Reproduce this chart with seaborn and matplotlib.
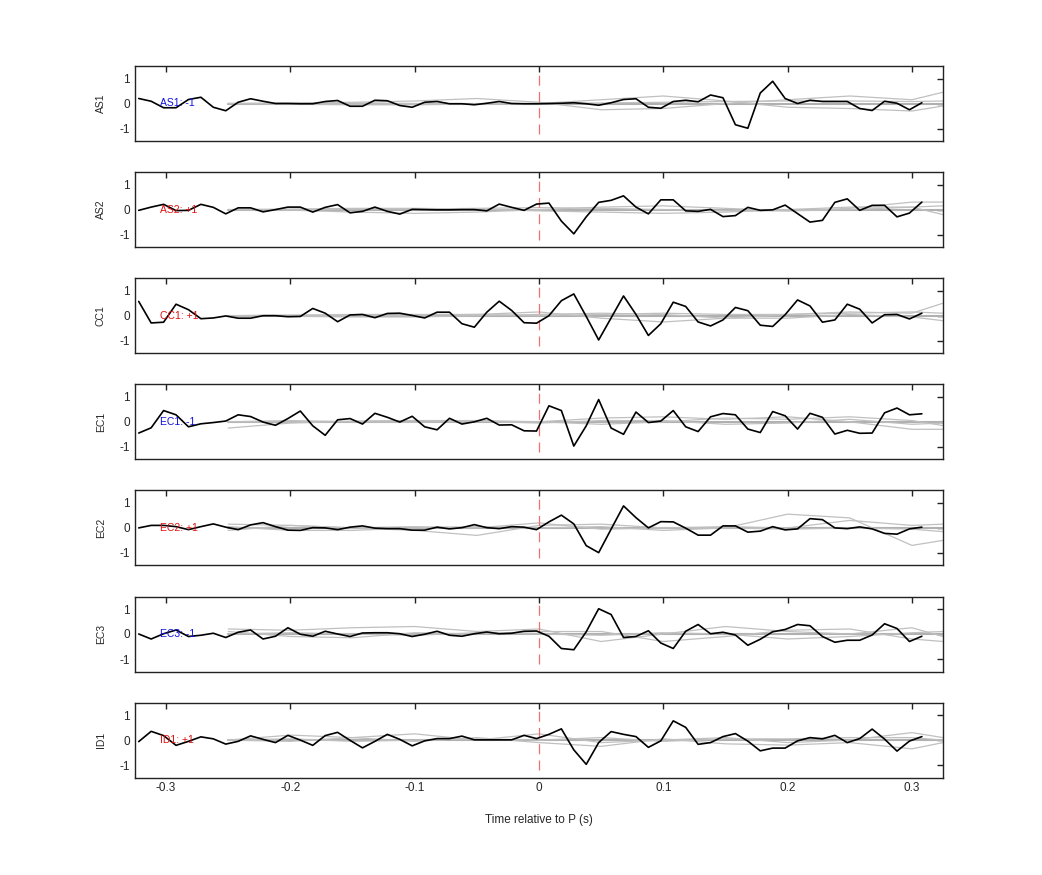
import numpy as np
import pandas as pd
import matplotlib
matplotlib.use("Agg")
import matplotlib.pyplot as plt
import seaborn as sns

stations = ["AS1", "AS2", "CC1", "EC1", "EC2", "EC3", "ID1"]
polarity = ["-1", "+1", "+1", "-1", "+1", "-1", "+1"]
time = [round(-0.322 + 0.01 * i, 3) for i in range(64)]

AS1 = [0.2,0.09,-0.17,-0.17,0.16,0.25,-0.15,-0.29,0.05,0.19,0.09,0,0,-0.01,-0.01,0.08,0.12,-0.11,-0.11,0.13,0.11,-0.08,-0.15,0.05,0.08,-0.01,-0.01,-0.05,0.01,0.08,0,-0.01,-0.01,
       0,0.01,0.03,-0.01,-0.07,0.03,0.16,0.19,-0.15,-0.19,0.08,0.13,0.07,0.34,0.23,-0.85,-0.99,0.42,0.89,0.2,0,0.13,0.08,0.08,0.08,-0.2,-0.28,0.09,0.01,-0.25,0.03]
AS2 = [-0.03,0.1,0.21,-0.04,-0.03,0.21,0.09,-0.17,0.07,0.07,-0.09,0,0.1,0.1,-0.1,0.09,0.2,-0.13,-0.07,0.1,-0.07,-0.18,0.01,0,-0.01,-0.01,0,0,-0.05,0.22,0.09,-0.03,
       0.22,0.26,-0.46,-0.97,-0.29,0.29,0.37,0.55,0.1,-0.17,0.39,0.39,-0.05,-0.07,0.01,-0.28,-0.24,0.09,-0.03,-0.01,0.18,-0.16,-0.5,-0.43,0.29,0.43,-0.03,0.17,0.17,-0.29,-0.14,0.3]
CC1 = [0.57,-0.29,-0.26,0.46,0.24,-0.12,-0.09,-0.01,-0.1,-0.1,0,0,-0.04,-0.03,0.29,0.1,-0.24,0.03,0.05,-0.08,0.09,0.1,0.01,-0.09,0.14,0.14,-0.32,-0.46,0.14,0.58,0.21,-0.28,
       -0.3,0,0.6,0.87,-0.03,-0.97,-0.09,0.79,0.05,-0.79,-0.32,0.54,0.37,-0.25,-0.41,-0.17,0.33,0.2,-0.38,-0.43,0.04,0.63,0.39,-0.26,-0.17,0.46,0.26,-0.29,0.04,0.05,-0.13,0.1]
EC1 = [-0.45,-0.24,0.45,0.28,-0.2,-0.08,-0.03,0.03,0.28,0.21,-0.01,-0.14,0.13,0.43,-0.16,-0.54,0.08,0.13,-0.09,0.34,0.18,-0.01,0.22,-0.2,-0.32,0.14,-0.09,0,0.14,-0.13,-0.12,-0.36,
       -0.37,0.64,0.45,-0.97,-0.16,0.89,-0.25,-0.5,0.39,-0.03,0.03,0.45,-0.2,-0.39,0.2,0.33,0.28,-0.29,-0.43,0.41,0.24,-0.29,0.34,0.18,-0.49,-0.34,-0.46,-0.45,0.36,0.55,0.28,0.32]
EC2 = [0,0.1,0.1,0.05,-0.07,0.05,0.16,0.03,-0.07,0.12,0.21,0.05,-0.09,-0.1,0.01,0,-0.07,0.03,0.08,-0.01,-0.03,-0.03,-0.09,-0.09,0.03,-0.04,0.01,0.13,0.01,-0.03,0.05,0.03,
       -0.07,0.24,0.51,0.16,-0.71,-0.99,-0.05,0.88,0.41,0,0.25,0.24,-0.01,-0.29,-0.29,0.08,0.08,-0.17,-0.13,0.05,-0.08,-0.04,0.37,0.33,0,-0.03,0.04,-0.04,-0.22,-0.25,-0.04,0.03]
EC3 = [0,-0.2,0.01,0.16,-0.1,-0.05,0.03,-0.14,0.07,0.16,-0.2,-0.09,0.25,-0.01,-0.09,0.11,0,-0.1,0.04,0.05,0.05,0.01,-0.1,-0.01,0.11,-0.05,-0.09,0.01,0.08,0.01,0.03,0.11,
       0.12,-0.09,-0.58,-0.63,0.09,1.01,0.78,-0.14,-0.1,0.13,-0.36,-0.58,0.11,0.38,0.01,0.07,-0.04,-0.45,-0.21,0.09,0.18,0.38,0.33,-0.1,-0.33,-0.25,-0.25,-0.04,0.41,0.22,-0.3,-0.09]
ID1 = [-0.06,0.35,0.18,-0.21,-0.05,0.13,0.05,-0.16,-0.05,0.17,0.03,-0.1,0.19,0,-0.21,0.18,0.31,-0.01,-0.31,-0.05,0.23,0.03,-0.23,-0.03,0.06,0.06,0.16,0.01,0.01,0.01,0.01,0.19,
       0.06,0.23,0.45,-0.39,-0.97,-0.1,0.34,0.23,0.14,-0.29,-0.03,0.77,0.51,-0.17,-0.1,0.14,0.26,-0.04,-0.43,-0.32,-0.32,-0.03,0.1,0.05,0.19,-0.1,0.06,0.44,0.04,-0.44,-0.04,0.14]
traces = [AS1, AS2, CC1, EC1, EC2, EC3, ID1]

# gray synthetic traces, sampled every 0.05 s from -0.25 to 0.325
gray_time = [-0.25, -0.2, -0.15, -0.1, -0.05, 0.0, 0.05, 0.1, 0.15, 0.2, 0.25, 0.3, 0.325]
gray = {
    "AS1": [[0, 0.02, 0.05, 0.1, 0.2, 0.05, -0.25, -0.2, 0.0, 0.15, 0.3, 0.15, 0.45],
            [0, -0.03, -0.05, -0.05, -0.02, 0.0, 0.15, 0.3, 0.1, -0.15, -0.2, -0.3, -0.1],
            [0, 0.0, 0.02, 0.0, -0.02, 0.0, 0.02, 0.05, 0.08, 0.1, 0.1, 0.08, 0.1]],
    "AS2": [[0, -0.02, -0.1, -0.15, -0.1, 0.0, 0.1, 0.15, 0.05, -0.05, 0.05, 0.3, 0.3],
            [0, 0.02, 0.05, 0.05, 0.02, -0.05, -0.1, -0.15, -0.1, 0.0, 0.1, 0.1, -0.2],
            [0, 0.0, 0.02, 0.02, 0.05, 0.08, 0.05, 0.0, -0.05, -0.05, 0.0, 0.1, 0.15]],
    "CC1": [[0, 0.02, 0.05, 0.05, 0.05, 0.15, -0.1, -0.25, -0.1, 0.05, 0.15, 0.1, 0.5],
            [0, -0.02, -0.05, -0.05, 0.0, 0.05, 0.1, 0.05, -0.1, -0.1, 0.05, -0.05, -0.2],
            [0, 0.02, 0.0, 0.02, 0.05, 0.0, 0.05, 0.1, 0.05, 0.05, 0.1, 0.15, 0.1]],
    "EC1": [[-0.25, -0.05, 0.02, 0.05, 0.05, 0.0, 0.15, 0.2, 0.1, 0.2, 0.0, -0.3, -0.3],
            [0, 0.05, 0.0, -0.02, 0.02, 0.0, -0.1, 0.0, 0.15, 0.1, 0.2, 0.05, -0.15],
            [0, 0.0, 0.02, 0.05, 0.02, -0.05, 0.05, 0.05, -0.1, -0.05, 0.1, -0.1, -0.05]],
    "EC2": [[0.15, 0.1, 0.0, -0.1, -0.3, 0.1, 0.15, 0.0, 0.0, 0.55, 0.4, -0.7, -0.5],
            [-0.1, 0.1, 0.0, 0.05, 0.0, 0.2, -0.05, 0.0, 0.05, 0.0, 0.3, 0.1, 0.15],
            [0.05, -0.1, -0.1, 0.0, 0.05, 0.0, 0.05, -0.1, 0.0, -0.05, 0.0, -0.05, -0.15]],
    "EC3": [[0.2, 0.15, 0.25, 0.3, 0.1, 0.2, -0.3, 0.0, 0.3, 0.1, 0.0, 0.25, -0.1],
            [0.1, -0.1, -0.15, 0.05, 0.0, 0.1, 0.1, -0.3, -0.1, 0.15, 0.2, -0.2, -0.3],
            [0, 0.05, 0.0, -0.05, 0.05, 0.0, -0.05, 0.05, 0.0, -0.2, -0.1, 0.05, 0.1]],
    "ID1": [[0, 0.2, 0.1, 0.25, 0.0, 0.25, -0.1, 0.0, 0.1, -0.1, 0.0, 0.3, 0.1],
            [0, -0.05, 0.1, -0.05, 0.1, -0.1, -0.25, 0.05, -0.15, -0.2, -0.1, -0.35, -0.1],
            [0, 0.05, -0.05, 0.0, 0.05, 0.0, 0.1, -0.05, 0.05, 0.05, 0.1, 0.1, 0.0]],
}

sns.set_style("white")
plt.rcParams["font.family"] = ["Liberation Sans", "DejaVu Sans"]
plt.rcParams["axes.unicode_minus"] = False
fig = plt.figure(figsize=(10.42, 8.75), dpi=100)
W, H = 1042, 875
left, right = 135, 943
for i, st in enumerate(stations):
    top = 66 + 106.1 * i
    ax = fig.add_axes([left / W, 1 - (top + 75) / H, (right - left) / W, 75 / H])
    for g in gray[st]:
        sns.lineplot(x=gray_time, y=g, ax=ax, color="#c0c0c0", lw=0.9)
    ax.axhline(0, color="#b0b0b0", lw=1.5, xmin=(-0.25 + 0.325) / 0.65, zorder=1)
    sns.lineplot(x=time, y=traces[i], ax=ax, color="black", lw=1.2, zorder=5)
    ax.vlines(0, -1.2, 1.2, colors="#f07070", linestyles=(0, (8, 5)), lw=0.9, zorder=3)
    col = "#1010e0" if polarity[i] == "-1" else "#e01010"
    ax.text(-0.305, 0, f"{st}: {polarity[i]}", color=col, fontsize=7.5, va="center", zorder=6)
    ax.set_xlim(-0.325, 0.325)
    ax.set_ylim(-1.5, 1.5)
    ax.set_yticks([-1, 0, 1])
    ax.set_yticklabels(["-1", "0", "1"])
    ax.set_xticks([-0.3, -0.2, -0.1, 0, 0.1, 0.2, 0.3])
    ax.tick_params(direction="in", top=True, right=True, labelsize=8.5, length=4, width=1, color="#222")
    ax.set_ylabel(st, fontsize=7.5, labelpad=10)
    for s in ax.spines.values():
        s.set_color("#222")
        s.set_linewidth(1)
    if i < len(stations) - 1:
        ax.set_xticklabels([])
    else:
        ax.set_xticklabels(["-0.3", "-0.2", "-0.1", "0", "0.1", "0.2", "0.3"])
        ax.set_xlabel("Time relative to P (s)", fontsize=8.5, labelpad=14)

fig.savefig("out.png", dpi=100)
